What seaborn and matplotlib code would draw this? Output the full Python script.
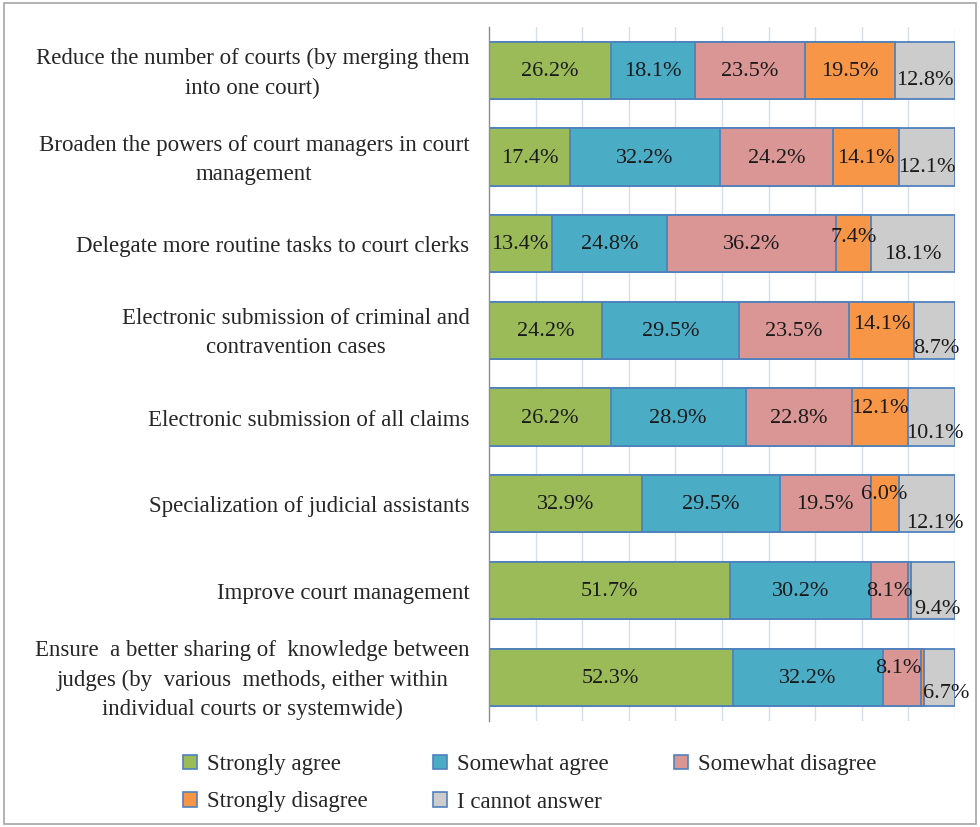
import numpy as np
import pandas as pd
import matplotlib
matplotlib.use("Agg")
import matplotlib.pyplot as plt
import matplotlib.transforms as mtransforms
import seaborn as sns
from matplotlib.patches import Patch, Rectangle

# ---------------- data ----------------
categories = [
    "Reduce the number of courts (by merging them\ninto one court)",
    "Broaden the powers of court managers in court\nmanagement",
    "Delegate more routine tasks to court clerks",
    "Electronic submission of criminal and\ncontravention cases",
    "Electronic submission of all claims",
    "Specialization of judicial assistants",
    "Improve court management",
    "Ensure  a better sharing of  knowledge between\njudges (by  various  methods, either within\nindividual courts or systemwide)",
]
series_names = ["Strongly agree", "Somewhat agree", "Somewhat disagree",
                "Strongly disagree", "I cannot answer"]
strongly_agree = [26.2, 17.4, 13.4, 24.2, 26.2, 32.9, 51.7, 52.3]
somewhat_agree = [18.1, 32.2, 24.8, 29.5, 28.9, 29.5, 30.2, 32.2]
somewhat_disagree = [23.5, 24.2, 36.2, 23.5, 22.8, 19.5, 8.1, 8.1]
strongly_disagree = [19.5, 14.1, 7.4, 14.1, 12.1, 6.0, 0.6, 0.7]
cannot_answer = [12.8, 12.1, 18.1, 8.7, 10.1, 12.1, 9.4, 6.7]

# ---------------- style ----------------
colors = ["#9BBB59", "#4BACC6", "#D99694", "#F79646", "#CCCCCC"]
edge = "#4F81BD"
# Excel-style label nudges (pixels, dx right / dy down) for crowded segments
label_nudge = {
    (0, 4): (0, 9), (1, 4): (0, 9),
    (2, 3): (0, -7), (2, 4): (0, 10),
    (3, 3): (0, -7), (3, 4): (2, 17),
    (4, 3): (0, -10), (4, 4): (3, 15),
    (5, 3): (0, -10), (5, 4): (8, 19),
    (6, 4): (4, 18),
    (7, 2): (-3, -10), (7, 4): (7, 15),
}

sns.set_theme(style="white")
plt.rcParams["font.family"] = ["Liberation Serif", "DejaVu Serif"]

fig = plt.figure(figsize=(9.8, 8.27), dpi=100)
ax = fig.add_axes([489 / 980, 1 - 720.5 / 827, (955 - 489) / 980, (720.5 - 27) / 827])

vals = np.array([strongly_agree, somewhat_agree, somewhat_disagree,
                 strongly_disagree, cannot_answer]).T  # rows x series
pct = vals / vals.sum(axis=1, keepdims=True) * 100
cum = np.cumsum(pct, axis=1)

df = pd.DataFrame({"category": categories})
for j in range(len(series_names)):
    df[series_names[j]] = cum[:, j]

# draw cumulative bars from the back (largest) to the front
for j in reversed(range(len(series_names))):
    sns.barplot(data=df, x=series_names[j], y="category", orient="h",
                color=colors[j], saturation=1, width=0.66,
                edgecolor=edge, linewidth=1.3, ax=ax, zorder=2)

# labels
for i in range(len(categories)):
    for j in range(len(series_names)):
        v = vals[i, j]
        if v < 1:
            continue
        left = cum[i, j] - pct[i, j]
        xc = left + pct[i, j] / 2
        dx, dy = label_nudge.get((i, j), (0, 0))
        ax.annotate(f"{v:.1f}%", (xc, i), xytext=(dx, -dy - 1),
                    textcoords="offset pixels", ha="center", va="center",
                    fontsize=16, color="#1a1a1a", zorder=5)

ax.set_xlim(0, 100)
ax.set_ylim(len(categories) - 0.5, -0.5)
ax.set_xlabel("")
ax.set_ylabel("")
ax.set_xticks(np.arange(10, 101, 10))
ax.tick_params(axis="x", length=0, labelbottom=False)
ax.grid(axis="x", color="#D6DDEB", linewidth=1)
ax.set_axisbelow(True)

ax.set_yticks(range(len(categories)))
ax.set_yticklabels(categories, fontsize=16.5, ha="right", va="center",
                   multialignment="center", linespacing=1.5)
ax.tick_params(axis="y", which="major", length=0, pad=14)
shift = mtransforms.ScaledTranslation(0, -3 / 100, fig.dpi_scale_trans)
for lab in ax.get_yticklabels():
    lab.set_transform(lab.get_transform() + shift)
ax.set_yticks(np.arange(-0.5, len(categories), 1), minor=True)
ax.tick_params(axis="y", which="minor", length=8, width=1, color="#8C8C8C", direction="out")

for s in ["top", "right", "bottom"]:
    ax.spines[s].set_visible(False)
ax.spines["left"].set_color("#8C8C8C")
ax.spines["left"].set_linewidth(1)

# legend (row-wise order)
handles = [Patch(facecolor=c, edgecolor=edge, linewidth=1.2) for c in colors]
order = [0, 3, 1, 4, 2]
fig.legend([handles[k] for k in order], [series_names[k] for k in order],
           ncol=3, loc="upper left", bbox_to_anchor=(183 / 980, 1 - 754 / 827),
           frameon=False, fontsize=16.5, handlelength=0.6, handleheight=0.6,
           handletextpad=0.45, columnspacing=2.85, labelspacing=0.72,
           borderpad=0, borderaxespad=0)

fig.add_artist(Rectangle((0.004, 0.004), 0.992, 0.992, transform=fig.transFigure,
                         fill=False, edgecolor="#A6A6A6", linewidth=1.2))

fig.savefig("out.png", dpi=100)
